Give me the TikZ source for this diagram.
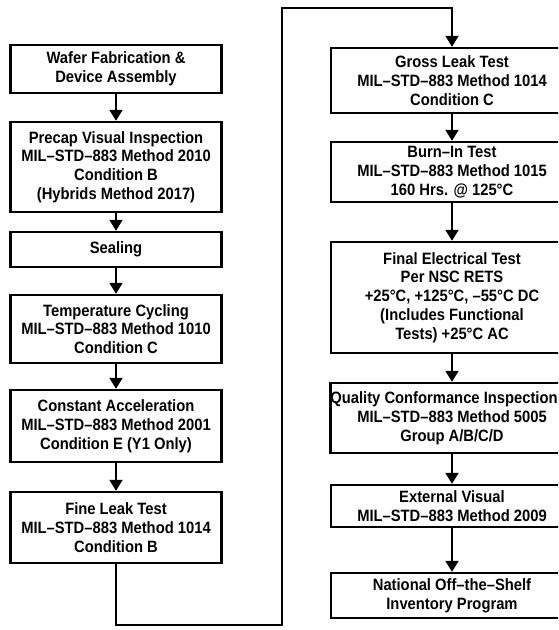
\documentclass[tikz,border=0pt]{standalone}
\usepackage{fontspec}
\setmainfont{Liberation Sans}[FakeStretch=0.9]
\usetikzlibrary{arrows.meta}
\begin{document}
\begin{tikzpicture}[
    x=1pt,y=-1pt,
    stage/.style={draw,line width=2.4pt,inner sep=0pt,align=center,
        font=\fontsize{16.4}{18.8}\selectfont\bfseries},
    leftstage/.style={stage,minimum width=211pt},
    rightstage/.style={stage,minimum width=242pt},
    flow/.style={line width=2pt,-{Triangle[width=13pt,length=11pt]}}]
    \clip (0,0) rectangle (558,630);
    % left column
    \node[leftstage,minimum height=48pt] (wafer) at (116,69)
        {Wafer Fabrication \&\\Device Assembly};
    \node[leftstage,minimum height=90pt] (precap) at (116,167)
        {Precap Visual Inspection\\MIL--STD--883 Method 2010\\Condition B\\(Hybrids Method 2017)};
    \node[leftstage,minimum height=35pt] (seal) at (116,249.5) {Sealing};
    \node[leftstage,minimum height=68pt] (tempcyc) at (116,329)
        {Temperature Cycling\\MIL--STD--883 Method 1010\\Condition C};
    \node[leftstage,minimum height=72pt] (accel) at (116,426)
        {Constant Acceleration\\MIL--STD--883 Method 2001\\Condition E (Y1 Only)};
    \node[leftstage,minimum height=71pt] (fineleak) at (116,527.5)
        {Fine Leak Test\\MIL--STD--883 Method 1014\\Condition B};
    % right column
    \node[rightstage,minimum height=65pt] (grossleak) at (452,80.5)
        {Gross Leak Test\\MIL--STD--883 Method 1014\\Condition C};
    \node[rightstage,minimum height=60pt] (burnin) at (452,172)
        {Burn--In Test\\MIL--STD--883 Method 1015\\160 Hrs. @ 125°C};
    \node[rightstage,minimum height=111pt] (finalelec) at (452,297.5)
        {Final Electrical Test\\Per NSC RETS\\+25°C, +125°C, --55°C DC\\(Includes Functional\\Tests) +25°C AC};
    \node[rightstage,minimum height=70pt] (qci) at (452,418)
        {Quality Conformance Inspection\hspace*{16pt}\\MIL--STD--883 Method 5005\\Group A/B/C/D};
    \node[rightstage,minimum height=42pt] (extvis) at (452,506)
        {External Visual\\MIL--STD--883 Method 2009};
    \node[rightstage,minimum height=45pt] (notsi) at (452,595.5)
        {National Off--the--Shelf\\Inventory Program};
    \coordinate (loopbot) at (282,625);
    \coordinate (looptop) at (282,8);
    \draw[flow] (wafer) -- (precap);
    \draw[flow] (precap) -- (seal);
    \draw[flow] (seal) -- (tempcyc);
    \draw[flow] (tempcyc) -- (accel);
    \draw[flow] (accel) -- (fineleak);
    \draw[flow] (fineleak.south) |- (loopbot) -- (looptop) -| (grossleak.north);
    \draw[flow] (grossleak) -- (burnin);
    \draw[flow] (burnin) -- (finalelec);
    \draw[flow] (finalelec) -- (qci);
    \draw[flow] (qci) -- (extvis);
    \draw[flow] (extvis) -- (notsi);
\end{tikzpicture}
\end{document}
